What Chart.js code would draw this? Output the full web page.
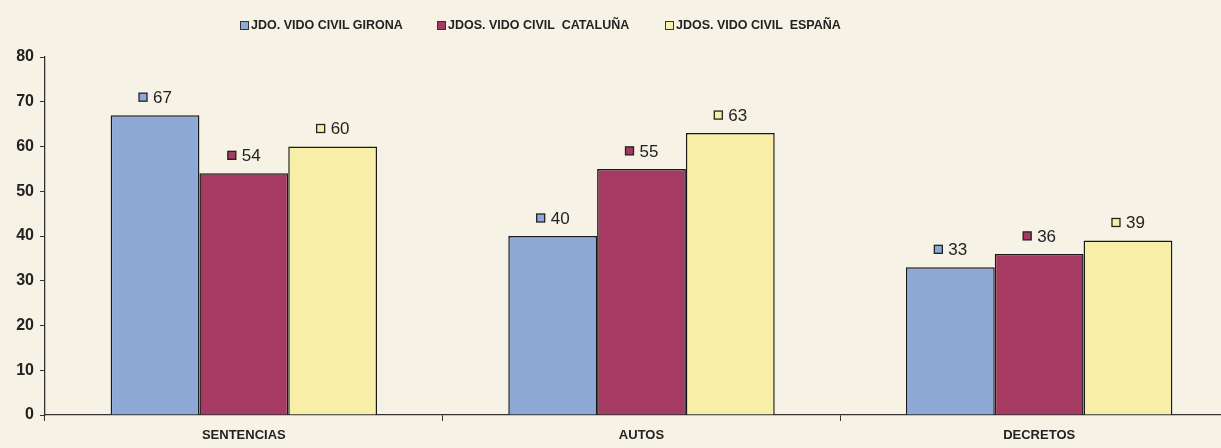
<!DOCTYPE html>
<html lang="es">
<head>
  <meta charset="UTF-8">
  <title>Juzgados civiles - resoluciones</title>
  <script src="https://cdn.jsdelivr.net/npm/chart.js"></script>
  <style>
    body {
      margin: 0;
      background: #f6f2e5;
      overflow: hidden;
      font-family: "Liberation Sans", Arial, sans-serif;
    }
    #wrap {
      position: relative;
      width: 1240px;
      height: 448px;
    }
    #legend {
      position: absolute;
      top: 18px;
      left: 240px;
      display: flex;
      font-size: 12.5px;
      font-weight: bold;
      color: #222;
      white-space: pre;
    }
    #legend span { display: flex; align-items: center; }
    #legend i {
      display: inline-block;
      width: 7px; height: 7px;
      border: 1px solid #333;
      margin-right: 2px;
    }
  </style>
</head>
<body>
  <div id="wrap">
    <canvas id="chart" width="1240" height="448"></canvas>
    <div id="legend"></div>
  </div>

  <script>
    const categories = ['SENTENCIAS', 'AUTOS', 'DECRETOS'];
    const seriesNames = ['JDO. VIDO CIVIL GIRONA', 'JDOS. VIDO CIVIL  CATALUÑA', 'JDOS. VIDO CIVIL  ESPAÑA'];
    const girona = [67, 40, 33];
    const cataluna = [54, 55, 36];
    const espana = [60, 63, 39];
    const colors = ['#8fa9d6', '#a63a62', '#f7eea8'];

    // legend (html, placed like the original)
    const legendStarts = [0, 197, 425];
    const legend = document.getElementById('legend');
    seriesNames.forEach((n, i) => {
      const s = document.createElement('span');
      s.innerHTML = '<i style="background:' + colors[i] + '"></i>' + n;
      s.style.position = 'absolute';
      s.style.left = legendStarts[i] + 'px';
      legend.appendChild(s);
    });

    // value labels with small coloured square
    const valueLabels = {
      id: 'valueLabels',
      afterDatasetsDraw(chart) {
        const ctx = chart.ctx;
        ctx.save();
        ctx.font = '17px "Liberation Sans", Arial, sans-serif';
        ctx.textBaseline = 'middle';
        ctx.textAlign = 'left';
        chart.data.datasets.forEach((ds, i) => {
          chart.getDatasetMeta(i).data.forEach((bar, j) => {
            const y = bar.y - 18;
            ctx.fillStyle = ds.backgroundColor;
            ctx.fillRect(bar.x - 16, y - 4, 8, 8);
            ctx.strokeStyle = '#222';
            ctx.lineWidth = 1.3;
            ctx.strokeRect(bar.x - 16, y - 4, 8, 8);
            ctx.fillStyle = '#222';
            ctx.fillText(ds.data[j], bar.x - 2, y + 1);
          });
        });
        ctx.restore();
      }
    };

    new Chart(document.getElementById('chart'), {
      type: 'bar',
      data: {
        labels: categories,
        datasets: [girona, cataluna, espana].map((d, i) => ({
          label: seriesNames[i],
          data: d,
          backgroundColor: colors[i],
          borderColor: '#1a1a1a',
          borderWidth: 1.5,
          categoryPercentage: 0.67,
          barPercentage: 1.0
        }))
      },
      options: {
        responsive: false,
        animation: false,
        layout: { padding: { top: 57, right: 2, left: 0, bottom: 0 } },
        plugins: {
          legend: { display: false },
          tooltip: { enabled: false }
        },
        scales: {
          x: {
            grid: { drawOnChartArea: false, tickLength: 6, color: '#333' },
            border: { color: '#333', width: 1.3 },
            ticks: {
              color: '#222',
              font: { family: '"Liberation Sans", Arial', size: 13, weight: 'bold' },
              padding: 7
            },
            afterFit(s) { s.height = 33; }
          },
          y: {
            min: 0,
            max: 80,
            ticks: {
              stepSize: 10,
              color: '#222',
              font: { family: '"Liberation Sans", Arial', size: 16, weight: 'bold' },
              padding: 6
            },
            grid: { drawOnChartArea: false, tickLength: 5, color: '#333' },
            border: { color: '#333', width: 1.3 },
            afterFit(s) { s.width = 45; }
          }
        }
      },
      plugins: [valueLabels]
    });
  </script>
</body>
</html>
